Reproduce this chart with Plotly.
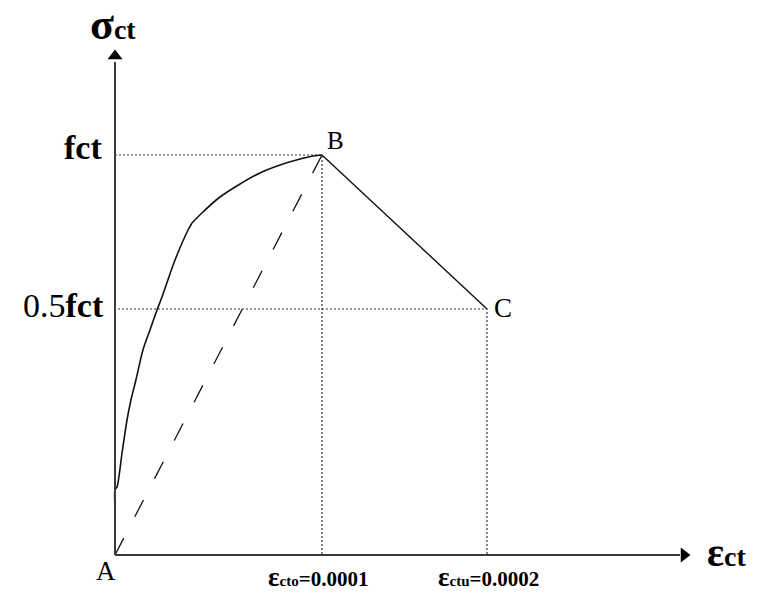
import plotly.graph_objects as go

# ---- data -------------------------------------------------------------
# characteristic points of the tension model (strain, stress / fct)
point_names = ["A", "B", "C"]
point_strain = [0.0, 0.0001, 0.0002]
point_stress = [0.0, 1.0, 0.5]

# ascending (pre-peak) branch, stress in units of fct
# lower steep part, up to the change of curvature
curve_low_strain = [0.0, 0.0, 0.0097e-4, 0.034e-4, 0.058e-4, 0.077e-4,
                    0.101e-4, 0.135e-4, 0.169e-4, 0.203e-4, 0.227e-4,
                    0.290e-4, 0.353e-4, 0.372e-4]
curve_low_stress = [0.12, 0.1625, 0.17, 0.255, 0.3375, 0.3875,
                    0.4375, 0.5125, 0.5625, 0.6125, 0.645,
                    0.7375, 0.8125, 0.83]
# upper rounded part, up to the peak
curve_up_strain = [0.372e-4, 0.425e-4, 0.507e-4, 0.604e-4, 0.700e-4,
                   0.797e-4, 0.894e-4, 0.957e-4, 1.0e-4]
curve_up_stress = [0.83, 0.8575, 0.895, 0.9275, 0.955,
                   0.975, 0.99, 0.9975, 1.0]

y_tick_values = [1.0, 0.5]
y_tick_labels = ["<b>fct</b>", "0.5<b>fct</b>"]
x_tick_values = [0.0001, 0.0002]
x_tick_labels = ["<b><span style='font-size:27px'>ε</span>"
                 "<span style='font-size:15px'>cto</span>=0.0001</b>",
                 "<b><span style='font-size:27px'>ε</span>"
                 "<span style='font-size:15px'>ctu</span>=0.0002</b>"]

# ---- canvas geometry (pixels) ----------------------------------------
W, H = 770, 601
OX, OY = 115, 555          # origin A
PX_PER_EPS = 207 / 1e-4    # pre-peak strain scale
PX_PER_F = 400             # pre-peak stress scale
BX, BY = 322, 155          # peak B
CX, CY = 487, 309          # end of softening C
SOFT_PX_PER_EPS = (CX - BX) / 1e-4
SOFT_PX_PER_F = (CY - BY) / 0.5

x_range = [(0 - OX) / PX_PER_EPS, (W - OX) / PX_PER_EPS]
y_range = [(OY - H) / PX_PER_F, OY / PX_PER_F]


def x2_of(px):
    return 1e-4 + (px - BX) / SOFT_PX_PER_EPS


def y2_of(py):
    return 1.0 - (py - BY) / SOFT_PX_PER_F


x2_range = [x2_of(0), x2_of(W)]
y2_range = [y2_of(H), y2_of(0)]

INK = "#111111"
AXIS = "#3a3a3a"
GUIDE = dict(color="#333333", width=1.2, dash="2px,2px")

fig = go.Figure()

# guide lines to B (pre-peak scale)
fig.add_trace(go.Scatter(x=[0, point_strain[1], point_strain[1]],
                         y=[point_stress[1], point_stress[1], 0],
                         mode="lines", line=GUIDE, hoverinfo="skip"))
# guide lines to C (post-peak scale)
fig.add_trace(go.Scatter(x=[x2_of(OX + 3), point_strain[2], point_strain[2]],
                         y=[point_stress[2], point_stress[2], y2_of(OY)],
                         mode="lines", line=GUIDE, hoverinfo="skip",
                         xaxis="x2", yaxis="y2"))

# secant line A-B
fig.add_trace(go.Scatter(x=point_strain[:2], y=point_stress[:2], mode="lines",
                         line=dict(color=INK, width=1.3, dash="19px,24px"),
                         hoverinfo="skip"))
# pre-peak curve
fig.add_trace(go.Scatter(x=curve_low_strain, y=curve_low_stress, mode="lines",
                         line=dict(color=INK, width=1.6, shape="spline",
                                   smoothing=0.8), hoverinfo="skip"))
fig.add_trace(go.Scatter(x=curve_up_strain, y=curve_up_stress, mode="lines",
                         line=dict(color=INK, width=1.6, shape="spline",
                                   smoothing=1.0), hoverinfo="skip"))
# softening branch B-C
fig.add_trace(go.Scatter(x=point_strain[1:], y=point_stress[1:], mode="lines",
                         line=dict(color=INK, width=1.4), hoverinfo="skip",
                         xaxis="x2", yaxis="y2"))

# axes with arrowheads
y_top = (OY - 62) / PX_PER_F
x_end = (680 - OX) / PX_PER_EPS
fig.add_trace(go.Scatter(x=[0, 0], y=[0, y_top], mode="lines",
                         line=dict(color=AXIS, width=2), hoverinfo="skip"))
fig.add_trace(go.Scatter(x=[0, x_end], y=[0, 0], mode="lines",
                         line=dict(color=AXIS, width=2), hoverinfo="skip"))
fig.add_trace(go.Scatter(x=[0], y=[(OY - 56) / PX_PER_F], mode="markers",
                         marker=dict(symbol="triangle-up", size=13, color="black"),
                         hoverinfo="skip"))
fig.add_trace(go.Scatter(x=[(684 - OX) / PX_PER_EPS], y=[0], mode="markers",
                         marker=dict(symbol="triangle-right", size=13, color="black"),
                         hoverinfo="skip"))

SERIF = "Liberation Serif"
ann = []
# axis titles
ann.append(dict(x=88 / W, y=1 - 25 / H, xref="paper", yref="paper",
                text="<b>σ<span style='font-size:28px'>ct</span></b>",
                font=dict(family=SERIF, size=44, color="black"),
                xanchor="left", yanchor="middle", showarrow=False))
ann.append(dict(x=705 / W, y=1 - 552 / H, xref="paper", yref="paper",
                text="<b>ε<span style='font-size:28px'>ct</span></b>",
                font=dict(family=SERIF, size=40, color="black"),
                xanchor="left", yanchor="middle", showarrow=False))
# stress labels
ann.append(dict(x=104 / W, y=y_tick_values[0], xref="paper", yref="y",
                text=y_tick_labels[0], yshift=8,
                font=dict(family=SERIF, size=34, color="black"),
                xanchor="right", yanchor="middle", showarrow=False))
ann.append(dict(x=106 / W, y=y_tick_values[1], xref="paper", yref="y2",
                text=y_tick_labels[1], yshift=4,
                font=dict(family=SERIF, size=34, color="black"),
                xanchor="right", yanchor="middle", showarrow=False))
# strain labels
for i, (v, t) in enumerate(zip(x_tick_values, x_tick_labels)):
    ann.append(dict(x=v, y=1 - 577 / H, xref="x2", yref="paper", text=t,
                    xshift=-4 if i == 0 else 1,
                    font=dict(family=SERIF, size=21, color="black"),
                    xanchor="center", yanchor="middle", showarrow=False))
# point names
ann.append(dict(x=point_strain[0], y=point_stress[0], xref="x", yref="y",
                text=point_names[0], xshift=-9, yshift=-16,
                font=dict(family=SERIF, size=27, color="black"),
                xanchor="center", yanchor="middle", showarrow=False))
ann.append(dict(x=point_strain[1], y=point_stress[1], xref="x", yref="y",
                text=point_names[1], xshift=3, yshift=15,
                font=dict(family=SERIF, size=25, color="black"),
                xanchor="left", yanchor="middle", showarrow=False))
ann.append(dict(x=point_strain[2], y=point_stress[2], xref="x2", yref="y2",
                text=point_names[2], xshift=5, yshift=1,
                font=dict(family=SERIF, size=27, color="black"),
                xanchor="left", yanchor="middle", showarrow=False))

fig.update_layout(
    width=W, height=H,
    margin=dict(l=0, r=0, t=0, b=0),
    paper_bgcolor="white", plot_bgcolor="white",
    showlegend=False,
    xaxis=dict(range=x_range, visible=False, domain=[0, 1]),
    yaxis=dict(range=y_range, visible=False, domain=[0, 1]),
    xaxis2=dict(range=x2_range, visible=False, overlaying="x"),
    yaxis2=dict(range=y2_range, visible=False, overlaying="y"),
    annotations=ann,
)

fig.write_html("out.html")
